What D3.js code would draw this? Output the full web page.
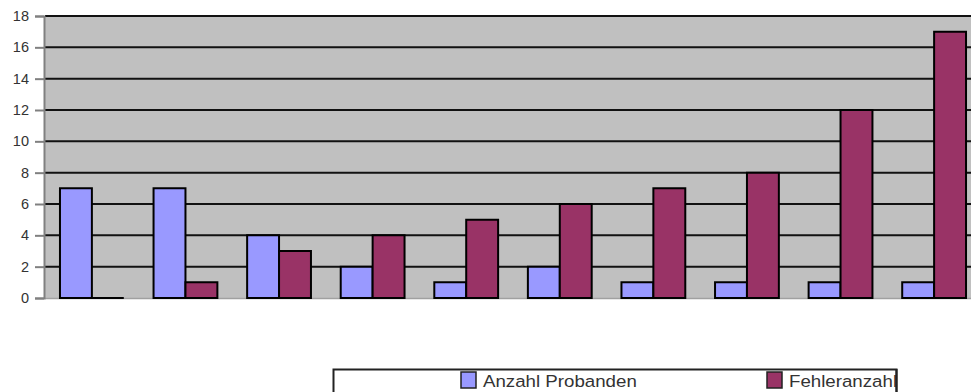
<!DOCTYPE html>
<html>
<head>
<meta charset="utf-8">
<script src="https://cdn.jsdelivr.net/npm/d3@7"></script>
<style>
  html, body { margin: 0; padding: 0; background: #fff; }
  svg { display: block; }
  text { font-family: "Liberation Sans", Arial, sans-serif; }
</style>
</head>
<body>
<svg id="chart" width="971" height="392"></svg>
<script>
// Data
const categories = ["1", "2", "3", "4", "5", "6", "7", "8", "9", "10"];
const seriesNames = ["Anzahl Probanden", "Fehleranzahl"];
const anzahlProbanden = [7, 7, 4, 2, 1, 2, 1, 1, 1, 1];
const fehleranzahl = [0, 1, 3, 4, 5, 6, 7, 8, 12, 17];
const yTicks = [0, 2, 4, 6, 8, 10, 12, 14, 16, 18];
const colors = ["#9999FF", "#993366"];

const svg = d3.select("#chart");
const plot = { left: 45, top: 16, right: 981, bottom: 298 };

const x = d3.scaleBand().domain(categories).range([plot.left, plot.right]).paddingInner(0.318).paddingOuter(0.16);
const xs = d3.scaleBand().domain(seriesNames).range([0, x.bandwidth()]);
const y = d3.scaleLinear().domain([0, 18]).range([plot.bottom, plot.top]);

// Plot background
svg.append("rect")
  .attr("x", plot.left).attr("y", plot.top)
  .attr("width", plot.right - plot.left).attr("height", plot.bottom - plot.top)
  .attr("fill", "#C0C0C0");

// Horizontal grid lines
svg.append("g")
  .selectAll("line")
  .data(yTicks.filter(d => d > 0))
  .join("line")
  .attr("x1", plot.left).attr("x2", plot.right)
  .attr("y1", d => y(d)).attr("y2", d => y(d))
  .attr("stroke", "#111").attr("stroke-width", 2);

// Bottom axis line
svg.append("line")
  .attr("x1", plot.left).attr("x2", plot.right)
  .attr("y1", plot.bottom + 0.5).attr("y2", plot.bottom + 0.5)
  .attr("stroke", "#a0a0a0").attr("stroke-width", 1.5);

// Left axis
const yAxis = svg.append("g")
  .attr("transform", `translate(${plot.left - 1},0)`)
  .call(d3.axisLeft(y).tickValues(yTicks).tickSize(9).tickPadding(6));
yAxis.select(".domain").attr("stroke", "#808080").attr("stroke-width", 2);
yAxis.selectAll(".tick line").attr("stroke", "#808080").attr("stroke-width", 2);
yAxis.selectAll(".tick text")
  .attr("fill", "#333").attr("font-size", 14.5)
  .attr("font-family", "'Liberation Sans', Arial, sans-serif");

// Bars (paths so zero-height bars still show their outline)
const rows = categories.map((c, i) => ({ cat: c, values: [anzahlProbanden[i], fehleranzahl[i]] }));
svg.append("g")
  .selectAll("g")
  .data(rows)
  .join("g")
  .attr("transform", d => `translate(${x(d.cat)},0)`)
  .selectAll("path")
  .data(d => d.values.map((v, j) => ({ name: seriesNames[j], value: v, j })))
  .join("path")
  .attr("d", d => {
    const x0 = xs(d.name), w = xs.bandwidth();
    const yTop = y(d.value), yBot = y(0);
    return `M${x0},${yBot}V${yTop}H${x0 + w}V${yBot}Z`;
  })
  .attr("fill", d => colors[d.j])
  .attr("stroke", "#000").attr("stroke-width", 2);

// Legend
const legend = svg.append("g");
legend.append("clipPath").attr("id", "legend-clip")
  .append("rect").attr("x", 334).attr("y", 369).attr("width", 562).attr("height", 30);
legend.append("rect")
  .attr("x", 333.5).attr("y", 369.5).attr("width", 563).attr("height", 30)
  .attr("fill", "#fff").attr("stroke", "#222").attr("stroke-width", 2);
const items = [
  { name: seriesNames[0], color: colors[0], x: 461 },
  { name: seriesNames[1], color: colors[1], x: 767 }
];
const inner = legend.append("g").attr("clip-path", "url(#legend-clip)");
items.forEach(it => {
  inner.append("rect")
    .attr("x", it.x).attr("y", 372).attr("width", 15).attr("height", 16)
    .attr("fill", it.color).attr("stroke", "#222").attr("stroke-width", 1.5);
  inner.append("text")
    .attr("transform", `translate(${it.x + 22},387) scale(1.1,1)`)
    .attr("font-size", 17).attr("fill", "#333")
    .text(it.name);
});
// Right border drawn over the clipped label
legend.append("line")
  .attr("x1", 896.5).attr("x2", 896.5).attr("y1", 369).attr("y2", 392)
  .attr("stroke", "#222").attr("stroke-width", 2);
</script>
</body>
</html>
